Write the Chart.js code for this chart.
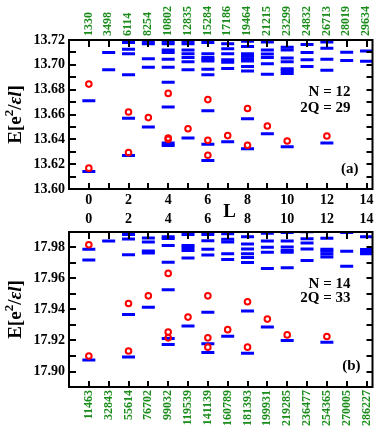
<!DOCTYPE html>
<html>
<head>
<meta charset="utf-8">
<script src="https://cdn.jsdelivr.net/npm/chart.js@4.4.1/dist/chart.umd.min.js"></script>
<style>
  html, body { margin: 0; padding: 0; background: #fff; }
  #wrap { position: relative; width: 382px; height: 431px; overflow: hidden; }
  canvas { position: absolute; left: 0; }
  #chartA { top: 0; }
  #chartB { top: 205px; }
</style>
</head>
<body>
<div id="wrap">
  <canvas id="chartA" width="382" height="222"></canvas>
  <canvas id="chartB" width="382" height="226"></canvas>
</div>
<script>
// angular momentum L (x axis, both panels)
const angMom = [0, 1, 2, 3, 4, 5, 6, 7, 8, 9, 10, 11, 12, 13, 14];

// green numbers on the outer axes (one per L)
const dimsA = [1330, 3498, 6114, 8254, 10802, 12835, 15284, 17186, 19464, 21215, 23299, 24832, 26713, 28019, 29634];
const dimsB = [11463, 32843, 55614, 76702, 99032, 119539, 141139, 160789, 181393, 199931, 219285, 236477, 254365, 270005, 286227];

// energy ticks
const energyTicksA = [13.60, 13.61, 13.62, 13.63, 13.64, 13.65, 13.66, 13.67, 13.68, 13.69, 13.70, 13.71, 13.72];
const energyTicksB = [17.89, 17.90, 17.91, 17.92, 17.93, 17.94, 17.95, 17.96, 17.97, 17.98, 17.99];

// panel (a): N = 12, 2Q = 29 -- blue levels, index = L
const levelsA = [
  [13.614, 13.671],
  [13.696, 13.710],
  [13.627, 13.657, 13.692, 13.709, 13.7125, 13.718],
  [13.650, 13.698, 13.705, 13.717, 13.719],
  [13.635, 13.637, 13.666, 13.686, 13.698, 13.7045, 13.710, 13.712, 13.717, 13.719],
  [13.641, 13.696, 13.7024, 13.706, 13.709, 13.712, 13.717, 13.719],
  [13.623, 13.636, 13.663, 13.692, 13.6965, 13.703, 13.7045, 13.706, 13.709, 13.718],
  [13.638, 13.697, 13.702, 13.704, 13.709, 13.713, 13.717],
  [13.6325, 13.6565, 13.695, 13.6987, 13.703, 13.705, 13.707, 13.709, 13.7147, 13.719],
  [13.6445, 13.6925, 13.7008, 13.706, 13.7088, 13.712, 13.7184],
  [13.634, 13.693, 13.6952, 13.6968, 13.7024, 13.7056, 13.712, 13.7141],
  [13.6987, 13.704, 13.7099, 13.7163],
  [13.637, 13.6957, 13.7045, 13.7133, 13.7184],
  [13.7035, 13.7101],
  [13.7029, 13.7112]
];
// panel (a): red circles, index = L
const trialA = [
  [13.6168, 13.6845],
  [],
  [13.6293, 13.662],
  [13.6575],
  [13.640, 13.6411, 13.677],
  [13.6485],
  [13.6272, 13.6392, 13.672],
  [13.643],
  [13.6352, 13.6648],
  [13.6507],
  [13.6387],
  [],
  [13.6427],
  [],
  []
];

// panel (b): N = 14, 2Q = 33
const levelsB = [
  [17.9074, 17.9719, 17.9789],
  [17.9842],
  [17.9094, 17.9367, 17.9754, 17.9855, 17.9884],
  [17.9415, 17.9765, 17.9778, 17.9835, 17.9862],
  [17.9174, 17.9213, 17.9527, 17.9705, 17.9813, 17.9858, 17.987],
  [17.9294, 17.9732, 17.978, 17.9798, 17.9813, 17.9884],
  [17.9123, 17.9179, 17.9383, 17.9752, 17.9789, 17.9844, 17.9884],
  [17.9228, 17.9723, 17.976, 17.9835, 17.9853, 17.9888],
  [17.9117, 17.9391, 17.9704, 17.9735, 17.9759, 17.9791, 17.9822, 17.9869],
  [17.9287, 17.9664, 17.9769, 17.9802, 17.9842, 17.9892],
  [17.920, 17.967, 17.9769, 17.978, 17.9804, 17.9842, 17.9897],
  [17.9716, 17.9791, 17.9829, 17.9857, 17.9901],
  [17.9189, 17.9738, 17.9758, 17.9776, 17.9789, 17.9859],
  [17.9679, 17.9776, 17.9897],
  [17.976, 17.9774, 17.9787, 17.987]
];
const trialB = [
  [17.910, 17.9818],
  [],
  [17.9132, 17.9439],
  [17.9488],
  [17.9217, 17.9255, 17.9633],
  [17.9351],
  [17.9157, 17.9217, 17.9488],
  [17.927],
  [17.9157, 17.945],
  [17.9338],
  [17.9236],
  [],
  [17.9226],
  [],
  []
];

const serif = "'Liberation Serif', 'Times New Roman', serif";
const tickFont = { family: serif, size: 14, weight: 'bold' };
const greenFont = { family: serif, size: 12, weight: 'bold' };
const green = '#1a8c1a';

function toPoints(byL) {
  return byL.flatMap((es, L) => es.map(e => ({ x: angMom[L], y: e })));
}

// frame + inward tick marks
const frameTicks = {
  id: 'frameTicks',
  afterDraw(chart) {
    const { ctx, chartArea: a, scales } = chart;
    ctx.save();
    ctx.strokeStyle = '#000';
    ctx.lineWidth = 2;
    ctx.beginPath();
    scales.y.ticks.forEach(t => {
      const py = Math.round(scales.y.getPixelForValue(t.value));
      ctx.moveTo(a.left, py); ctx.lineTo(a.left + 7, py);
      ctx.moveTo(a.right, py); ctx.lineTo(a.right - 6, py);
    });
    scales.x.ticks.forEach(t => {
      const px = Math.round(scales.x.getPixelForValue(t.value));
      ctx.moveTo(px, a.bottom); ctx.lineTo(px, a.bottom - 6);
    });
    scales.xTop.ticks.forEach(t => {
      const px = Math.round(scales.xTop.getPixelForValue(t.value));
      ctx.moveTo(px, a.top); ctx.lineTo(px, a.top + 7);
    });
    ctx.stroke();
    ctx.strokeRect(a.left, a.top, a.right - a.left, a.bottom - a.top);
    ctx.restore();
  }
};

// N / 2Q / panel letter, y title, L title
const panelText = {
  id: 'panelText',
  afterDraw(chart, args, opts) {
    const { ctx, chartArea: a } = chart;
    ctx.save();
    ctx.fillStyle = '#000';
    ctx.textBaseline = 'alphabetic';
    ctx.textAlign = 'right';
    ctx.font = 'bold 15px ' + serif;
    opts.notes.forEach(n => ctx.fillText(n.text, a.right + n.dx, a.top + n.dy));

    // E[e^2/εl] rotated
    const parts = [
      { t: 'E[e', f: 'bold 19px ' + serif, dy: 0 },
      { t: '2', f: 'bold 13px ' + serif, dy: -8 },
      { t: '/', f: 'bold 19px ' + serif, dy: 0 },
      { t: 'ε', f: 'italic bold 19px ' + serif, dy: 0 },
      { t: 'l', f: 'italic bold 19px ' + serif, dy: 0 },
      { t: ']', f: 'bold 19px ' + serif, dy: 0 }
    ];
    let total = 0;
    parts.forEach(p => { ctx.font = p.f; p.w = ctx.measureText(p.t).width; total += p.w; });
    ctx.translate(21, (a.top + a.bottom) / 2);
    ctx.rotate(-Math.PI / 2);
    ctx.textAlign = 'left';
    let x = -total / 2;
    parts.forEach(p => { ctx.font = p.f; ctx.fillText(p.t, x, p.dy); x += p.w; });
    ctx.setTransform(1, 0, 0, 1, 0, 0);

    if (opts.showL) {
      ctx.font = 'bold 19px ' + serif;
      ctx.textAlign = 'center';
      ctx.fillText('L', chart.scales.x.getPixelForValue(7.1), 217);
    }
    ctx.restore();
  }
};

function xAxis(position, height, labelFn, isGreen, padding, shift) {
  return {
    type: 'linear', axis: 'x', position, min: -1, max: 14.3,
    grid: { display: false, drawTicks: false }, border: { display: false },
    afterBuildTicks: s => { s.ticks = angMom.map(v => ({ value: v })); },
    afterFit: s => { s.height = height; s.paddingLeft = 0; s.paddingRight = 0; },
    ticks: {
      autoSkip: false, padding, labelOffset: shift || 0,
      color: isGreen ? green : '#000',
      minRotation: isGreen ? 90 : 0, maxRotation: isGreen ? 90 : 0,
      font: isGreen ? greenFont : tickFont,
      callback: labelFn
    }
  };
}

function buildPanel(id, cfg) {
  return new Chart(document.getElementById(id), {
    type: 'scatter',
    data: {
      datasets: [
        { label: 'circles', data: toPoints(cfg.trial), pointStyle: 'circle', radius: 2.8,
          borderWidth: 2, borderColor: '#ff0000', backgroundColor: 'rgba(0,0,0,0)' },
        { label: 'levels', data: toPoints(cfg.levels), pointStyle: 'line', radius: 6.5,
          borderWidth: 3, borderColor: '#0000ff', backgroundColor: '#0000ff' }
      ]
    },
    options: {
      responsive: false,
      animation: false,
      events: [],
      layout: { padding: { left: 0, top: 0, right: 2, bottom: 0 } },
      plugins: {
        legend: { display: false },
        tooltip: { enabled: false },
        panelText: { notes: cfg.notes, showL: cfg.showL }
      },
      scales: {
        x: cfg.xBottom,
        xTop: cfg.xTop,
        y: {
          type: 'linear', position: 'left', min: cfg.yMin, max: cfg.yMax,
          grid: { display: false, drawTicks: false }, border: { display: false },
          afterBuildTicks: s => { s.ticks = cfg.yTicks.map(v => ({ value: v })); },
          afterFit: s => { s.width = 69; s.paddingTop = 0; s.paddingBottom = 0; },
          ticks: {
            autoSkip: false, padding: 4, color: '#000', font: tickFont,
            callback: v => (Math.round(v * 100) % 2 === 0 ? v.toFixed(2) : '')
          }
        }
      }
    },
    plugins: [frameTicks, panelText]
  });
}

const evenOnly = v => (v % 2 === 0 ? String(v) : '');

buildPanel('chartA', {
  levels: levelsA, trial: trialA,
  yMin: 13.60, yMax: 13.72, yTicks: energyTicksA,
  xTop: xAxis('top', 40, v => String(dimsA[v]), true, 4, 14),
  xBottom: xAxis('bottom', 33, evenOnly, false, 3),
  showL: true,
  notes: [
    { text: 'N = 12', dx: -22, dy: 55.5 },
    { text: '2Q = 29', dx: -22, dy: 72 },
    { text: '(a)', dx: -14, dy: 132.5 }
  ]
});

buildPanel('chartB', {
  levels: levelsB, trial: trialB,
  yMin: 17.89, yMax: 17.99, yTicks: energyTicksB,
  xTop: xAxis('top', 27, evenOnly, false, 4),
  xBottom: xAxis('bottom', 44, v => String(dimsB[v]), true, 3),
  showL: false,
  notes: [
    { text: 'N = 14', dx: -22, dy: 55.5 },
    { text: '2Q = 33', dx: -22, dy: 69.5 },
    { text: '(b)', dx: -12, dy: 137.5 }
  ]
});
</script>
</body>
</html>
